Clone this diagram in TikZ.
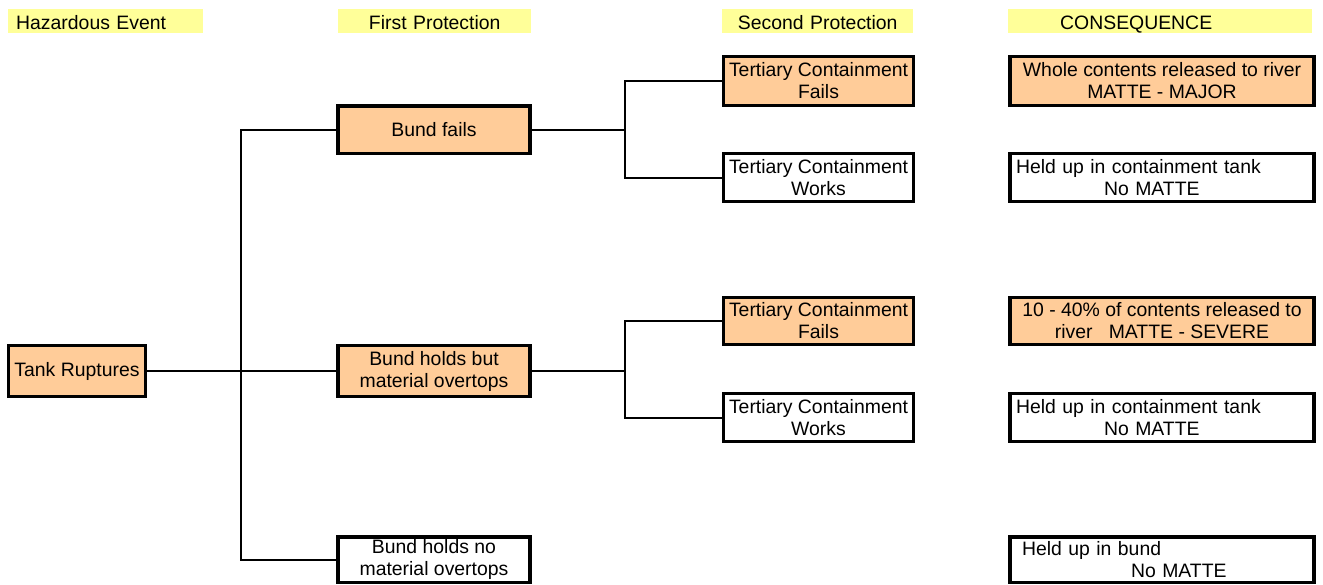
\documentclass[tikz,border=0pt]{standalone}
\usepackage{fontspec}
\setmainfont{Liberation Sans}
\definecolor{hdrfill}{HTML}{FFFF99}
\definecolor{hitfill}{HTML}{FFCC99}
\begin{document}
\begin{tikzpicture}[x=1pt,y=-1pt,
  every node/.style={font=\fontsize{19.4}{22}\selectfont},
  hdr/.style={fill=hdrfill, inner xsep=8pt, inner ysep=0pt, text height=20.5pt, text depth=3.5pt, align=left},
  evbox/.style={draw=black, line width=3.5pt, rectangle, inner sep=0pt, align=center},
  hit/.style={evbox, fill=hitfill},
  ok/.style={evbox, fill=white},
  conleft/.style={ok, align=left, text width=292pt, inner xsep=6pt},
  link/.style={draw=black, line width=2pt, line join=miter}
]
\useasboundingbox (0,0) rectangle (1323,584);

% column headings
\node[hdr, anchor=north west, text width=179pt] (h1) at (8,9) {Hazardous Event};
\node[hdr, anchor=north west, text width=177pt, align=center] (h2) at (338,9) {First Protection};
\node[hdr, anchor=north west, text width=175pt, align=center] (h3) at (722,9) {Second Protection};
\node[hdr, anchor=north west, text width=288pt] (h4) at (1008,9) {\hspace*{44pt}CONSEQUENCE};

% initiating event
\node[hit, minimum width=137pt, minimum height=51pt] (tank) at (77,371) {Tank Ruptures};

% first protection
\node[hit, minimum width=192pt, minimum height=47.5pt] (b1) at (434,129.5) {Bund fails};
\node[hit, minimum width=192pt, minimum height=51pt] (b2) at (434,371) {Bund holds but\\material overtops};
\node[ok,  minimum width=192pt, minimum height=45.5pt] (b3) at (434,559.5) {Bund holds no\\material overtops};

% second protection
\node[hit, minimum width=190pt, minimum height=49pt] (t1) at (818.5,81) {Tertiary Containment\\Fails};
\node[ok,  minimum width=190pt, minimum height=48pt] (t2) at (818.5,177.5) {Tertiary Containment\\Works};
\node[hit, minimum width=190pt, minimum height=47pt] (t3) at (818.5,321) {Tertiary Containment\\Fails};
\node[ok,  minimum width=190pt, minimum height=48pt] (t4) at (818.5,417.5) {Tertiary Containment\\Works};

% consequences
\node[hit, minimum width=304pt, minimum height=49pt] (c1) at (1162,81) {Whole contents released to river\\MATTE - MAJOR};
\node[conleft, minimum height=48pt] (c2) at (1162,177.5) {Held up in containment tank\\\hspace*{88pt}No MATTE};
\node[hit, minimum width=304pt, minimum height=47pt] (c3) at (1162,321) {10 - 40\% of contents released to\\river\ \ \ MATTE - SEVERE};
\node[conleft, minimum height=48pt] (c4) at (1162,417.5) {Held up in containment tank\\\hspace*{88pt}No MATTE};
\node[conleft, minimum height=45.5pt] (c5) at (1162,559.5) {\hspace*{6pt}Held up in bund\\\hspace*{115pt}No MATTE};

% branch points
\coordinate (j0) at (241,371);
\coordinate (j1) at (625,129.5);
\coordinate (j2) at (625,371);

% tree connectors
\path[link] (tank.east) -- (b2.west);
\path[link] (b1.west) -- (b1.west -| j0) -- (b3.west -| j0) -- (b3.west);
\path[link] (b1.east) -- (b1.east -| j1);
\path[link] (t1.west) -- (t1.west -| j1) -- (t2.west -| j1) -- (t2.west);
\path[link] (b2.east) -- (b2.east -| j2);
\path[link] (t3.west) -- (t3.west -| j2) -- (t4.west -| j2) -- (t4.west);
\end{tikzpicture}
\end{document}
